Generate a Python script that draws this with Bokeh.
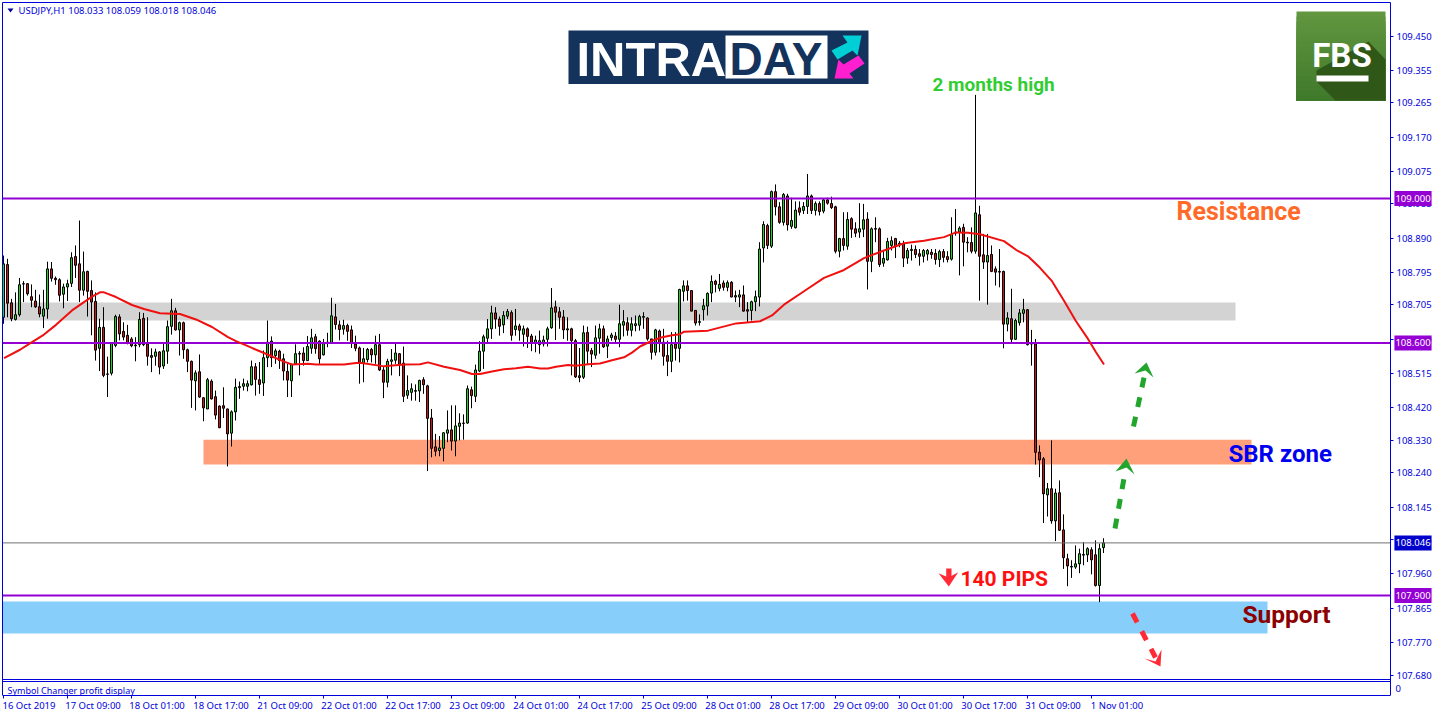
from bokeh.plotting import figure
from bokeh.embed import file_html
from bokeh.resources import INLINE
from bokeh.models import FixedTicker, LinearAxis, Label, PrintfTickFormatter

title_text = "USDJPY,H1  108.033 108.059 108.018 108.046"
opens = [
108.671,108.817,108.711,108.665,108.678,108.763,108.764,108.728,108.716,108.700,
108.674,108.694,108.805,108.779,108.775,108.735,108.755,108.765,108.839,108.819,
108.746,108.798,108.745,108.715,108.585,108.643,108.514,108.516,108.593,108.672,
108.632,108.621,108.611,108.594,108.595,108.668,108.597,108.565,108.563,108.575,
108.536,108.577,108.646,108.689,108.636,108.656,108.581,108.549,108.495,108.520,
108.448,108.417,108.494,108.451,108.425,108.426,108.417,108.350,108.409,108.476,
108.480,108.480,108.484,108.534,108.498,108.489,108.559,108.605,108.565,108.577,
108.556,108.521,108.495,108.542,108.569,108.572,108.551,108.585,108.617,108.605,
108.567,108.599,108.599,108.672,108.650,
108.638,108.648,108.636,108.597,108.586,108.544,108.554,108.582,108.567,108.595,
108.525,108.491,108.549,108.552,108.570,108.544,108.455,108.463,108.466,108.467,
108.498,108.481,108.392,108.312,108.302,108.308,108.350,108.359,108.328,108.369,
108.377,108.378,108.470,108.452,108.522,108.577,108.613,108.639,108.683,108.666,
108.650,108.674,108.684,108.637,108.647,108.624,108.639,108.619,108.600,108.595,
108.597,108.610,108.642,108.700,108.686,108.672,108.636,108.639,108.606,108.509,
108.505,108.629,108.579,108.566,108.613,108.639,108.591,108.615,108.619,108.610,
108.649,108.656,108.635,108.648,108.649,108.671,108.669,108.611,108.574,108.633,
108.602,108.565,108.549,108.597,108.585,
108.743,108.758,108.745,108.690,108.657,108.692,108.702,108.738,108.771,108.751,
108.766,108.754,108.768,108.731,108.727,108.733,108.692,108.690,108.714,108.727,
108.863,108.925,108.868,109.019,108.977,108.934,109.007,108.923,108.919,108.974,
108.967,108.978,109.007,108.967,108.986,108.965,108.996,108.986,108.977,108.854,
108.889,108.868,108.944,108.916,108.907,108.915,108.943,108.826,108.915,108.916,
108.821,108.830,108.870,108.889,108.876,108.874,108.835,108.856,108.859,108.847,
108.840,108.846,108.851,108.848,108.831,108.853,108.839,108.832,108.907,108.907,
108.920,108.877,108.878,108.854,108.955,108.844,108.824,108.845,108.805,108.796,
108.798,108.652,108.667,108.610,108.656,108.682,108.692,108.598,108.597,108.297,
108.279,108.179,108.196,108.107,108.185,108.082,108.002,107.979,107.979,107.988,
108.012,108.013,108.027,108.013,107.928,108.033]
highs = [
108.842,108.833,108.722,108.740,108.780,108.771,108.766,108.762,108.747,108.734,
108.747,108.825,108.824,108.784,108.779,108.764,108.775,108.851,108.870,108.939,
108.853,108.800,108.773,108.740,108.667,108.699,108.562,108.602,108.678,108.679,
108.657,108.650,108.616,108.616,108.685,108.683,108.671,108.585,108.584,108.577,
108.597,108.662,108.722,108.697,108.659,108.659,108.584,108.551,108.524,108.568,
108.450,108.503,108.499,108.468,108.427,108.477,108.418,108.413,108.501,108.493,
108.501,108.496,108.551,108.544,108.547,108.579,108.662,108.618,108.584,108.581,
108.570,108.542,108.542,108.596,108.577,108.588,108.619,108.639,108.625,108.607,
108.611,108.628,108.725,108.708,108.662,
108.664,108.653,108.648,108.620,108.590,108.586,108.586,108.586,108.620,108.625,
108.533,108.556,108.583,108.597,108.572,108.590,108.510,108.488,108.485,108.498,
108.505,108.484,108.417,108.348,108.342,108.353,108.413,108.427,108.427,108.405,
108.402,108.482,108.479,108.540,108.605,108.623,108.666,108.703,108.699,108.673,
108.688,108.694,108.690,108.694,108.653,108.648,108.643,108.625,108.620,108.634,
108.620,108.645,108.752,108.717,108.699,108.691,108.671,108.642,108.611,108.586,
108.648,108.645,108.586,108.648,108.653,108.648,108.620,108.628,108.630,108.706,
108.691,108.671,108.671,108.676,108.678,108.685,108.671,108.611,108.639,108.637,
108.639,108.606,108.630,108.630,108.750,
108.773,108.773,108.745,108.690,108.679,108.722,108.740,108.787,108.775,108.791,
108.773,108.773,108.771,108.745,108.747,108.759,108.713,108.717,108.745,108.879,
108.937,108.930,109.022,109.039,108.990,109.015,109.013,109.002,108.992,108.992,
108.990,109.068,109.011,108.992,108.992,108.999,109.002,109.005,108.980,108.891,
108.962,108.962,108.948,108.934,108.987,108.985,108.962,108.920,108.948,108.920,
108.856,108.891,108.895,108.891,108.882,108.883,108.863,108.872,108.870,108.860,
108.860,108.860,108.860,108.860,108.858,108.860,108.854,108.948,108.971,108.923,
108.930,108.893,108.920,109.287,108.980,108.902,108.902,108.870,108.812,108.860,
108.800,108.685,108.750,108.667,108.694,108.722,108.694,108.636,108.611,108.316,
108.284,108.212,108.330,108.196,108.219,108.125,108.016,107.998,108.039,108.030,
108.048,108.034,108.034,108.053,108.044,108.059]
lows = [
108.653,108.671,108.660,108.662,108.673,108.713,108.731,108.699,108.697,108.671,
108.641,108.667,108.770,108.761,108.715,108.696,108.716,108.755,108.780,108.713,
108.731,108.673,108.621,108.551,108.522,108.505,108.450,108.510,108.588,108.607,
108.607,108.596,108.588,108.549,108.588,108.591,108.537,108.519,108.537,108.513,
108.528,108.542,108.623,108.634,108.565,108.556,108.519,108.420,108.413,108.448,
108.383,108.417,108.443,108.388,108.364,108.392,108.258,108.313,108.385,108.445,
108.468,108.466,108.482,108.454,108.459,108.453,108.533,108.533,108.542,108.528,
108.496,108.450,108.450,108.542,108.510,108.537,108.551,108.570,108.570,108.542,
108.565,108.588,108.597,108.637,108.607,
108.623,108.606,108.586,108.577,108.487,108.491,108.546,108.546,108.542,108.522,
108.447,108.477,108.510,108.542,108.508,108.436,108.445,108.440,108.440,108.436,
108.459,108.245,108.283,108.286,108.286,108.272,108.325,108.302,108.286,108.330,
108.332,108.376,108.419,108.436,108.519,108.528,108.597,108.611,108.639,108.620,
108.627,108.666,108.606,108.620,108.606,108.590,108.586,108.577,108.574,108.570,
108.590,108.590,108.639,108.608,108.639,108.611,108.606,108.510,108.503,108.491,
108.500,108.542,108.533,108.556,108.570,108.586,108.558,108.606,108.597,108.588,
108.618,108.620,108.618,108.632,108.634,108.639,108.606,108.554,108.565,108.574,
108.537,108.508,108.519,108.551,108.546,
108.715,108.717,108.688,108.648,108.648,108.662,108.676,108.713,108.740,108.743,
108.745,108.743,108.727,108.713,108.699,108.687,108.657,108.662,108.688,108.701,
108.823,108.860,108.863,108.953,108.930,108.925,108.911,108.916,108.917,108.953,
108.957,108.957,108.957,108.953,108.953,108.959,108.983,108.971,108.848,108.837,
108.856,108.858,108.891,108.893,108.891,108.893,108.748,108.796,108.879,108.810,
108.811,108.828,108.856,108.835,108.865,108.810,108.819,108.828,108.835,108.814,
108.823,108.828,108.833,108.817,108.810,108.823,108.823,108.828,108.897,108.787,
108.812,108.851,108.848,108.847,108.717,108.805,108.706,108.796,108.759,108.754,
108.585,108.632,108.602,108.608,108.648,108.657,108.593,108.537,108.263,108.228,
108.101,108.119,108.099,108.051,108.079,107.974,107.926,107.949,107.974,107.962,
107.984,107.993,107.959,107.925,107.882,108.018]
closes = [
108.819,108.710,108.667,108.678,108.761,108.764,108.736,108.718,108.700,108.680,
108.694,108.805,108.779,108.775,108.732,108.755,108.764,108.836,108.815,108.746,
108.797,108.743,108.713,108.580,108.643,108.510,108.513,108.599,108.673,108.625,
108.616,108.601,108.592,108.592,108.665,108.595,108.563,108.560,108.575,108.533,
108.578,108.645,108.689,108.636,108.656,108.581,108.549,108.497,108.517,108.450,
108.420,108.498,108.445,108.400,108.365,108.419,108.348,108.409,108.477,108.479,
108.487,108.487,108.534,108.499,108.485,108.559,108.602,108.559,108.578,108.551,
108.522,108.497,108.540,108.570,108.571,108.551,108.590,108.614,108.584,108.556,
108.599,108.602,108.675,108.651,108.637,
108.648,108.632,108.600,108.585,108.546,108.556,108.582,108.567,108.595,108.525,
108.491,108.549,108.553,108.572,108.540,108.452,108.468,108.473,108.468,108.496,
108.484,108.391,108.308,108.300,108.309,108.351,108.359,108.328,108.370,108.378,
108.378,108.473,108.454,108.525,108.577,108.617,108.639,108.683,108.666,108.646,
108.676,108.687,108.621,108.647,108.635,108.639,108.618,108.600,108.608,108.606,
108.608,108.639,108.697,108.685,108.671,108.636,108.639,108.606,108.506,108.504,
108.628,108.577,108.569,108.614,108.639,108.589,108.611,108.622,108.610,108.653,
108.659,108.635,108.653,108.653,108.673,108.673,108.611,108.574,108.636,108.599,
108.563,108.549,108.595,108.585,108.748,
108.758,108.745,108.688,108.655,108.659,108.703,108.737,108.770,108.762,108.762,
108.754,108.767,108.727,108.727,108.733,108.688,108.688,108.714,108.728,108.860,
108.928,108.870,109.019,108.977,108.934,109.011,108.927,108.939,108.968,108.962,
108.978,109.007,108.967,108.986,108.964,108.996,108.987,108.975,108.854,108.889,
108.870,108.942,108.915,108.904,108.916,108.941,108.826,108.916,108.917,108.817,
108.834,108.881,108.883,108.867,108.872,108.835,108.856,108.859,108.845,108.840,
108.856,108.856,108.845,108.831,108.853,108.837,108.831,108.900,108.904,108.918,
108.879,108.879,108.854,108.960,108.840,108.824,108.842,108.798,108.796,108.798,
108.652,108.669,108.610,108.662,108.683,108.692,108.595,108.597,108.297,108.276,
108.182,108.196,108.107,108.184,108.081,108.005,107.982,107.981,107.988,108.016,
108.014,108.030,107.999,107.928,108.030,108.046]

ma_bars = [0,4,7,10,13,17,20,22,24,25,28,32,35,39,44,48,52,56,58,62,65,70,72,76,78,84,
           85,88,89,95,100,104,106,110,114,117,119,122,125,128,131,134,136,138,141,143,146,149,152,155,157,159,162,164,167,169,
           170,176,183,189,192,195,200,205,210,215,220,225,230,235,238,241,
           244,250,253,256,259,262,265,268,271,273,275]
ma_values = [108.558,108.581,108.602,108.623,108.650,108.690,108.713,108.728,108.740,108.740,108.727,108.705,108.694,108.682,108.680,108.665,108.644,108.616,108.605,108.586,108.572,108.548,108.540,108.542,108.540,108.540,
             108.540,108.544,108.545,108.535,108.540,108.541,108.546,108.534,108.525,108.514,108.514,108.521,108.527,108.530,108.534,108.529,108.529,108.534,108.539,108.537,108.541,108.543,108.552,108.560,108.573,108.590,108.606,108.614,108.621,108.624,
             108.631,108.634,108.654,108.660,108.676,108.706,108.743,108.780,108.802,108.835,108.856,108.876,108.883,108.893,108.906,108.905,
             108.901,108.882,108.858,108.840,108.808,108.771,108.717,108.660,108.611,108.574,108.540]

level_prices = [109.000, 108.600, 107.900]
level_labels = ["109.000", "108.600", "107.900"]
last_price = 108.046
grey_zone = (108.712, 108.662)
sbr_zone = (108.332, 108.263)
support_zone = (107.884, 107.795)
price_ticks = [109.450,109.355,109.265,109.170,109.075,108.985,108.890,108.795,108.705,108.610,
               108.515,108.420,108.330,108.240,108.145,108.055,107.960,107.865,107.770,107.680]
date_labels = ["16 Oct 2019","17 Oct 09:00","18 Oct 01:00","18 Oct 17:00","21 Oct 09:00","22 Oct 01:00",
               "22 Oct 17:00","23 Oct 09:00","24 Oct 01:00","24 Oct 17:00","25 Oct 09:00","28 Oct 01:00",
               "28 Oct 17:00","29 Oct 09:00","30 Oct 01:00","30 Oct 17:00","31 Oct 09:00","1 Nov 01:00"]

BLUE = "#0000dc"
def X(px): return (px - 3.5) / 4
def Y(py): return 109 - (py - 198) / 361

p = figure(width=1436, height=716, output_backend="svg", toolbar_location=None,
           x_range=(X(0), X(1436)), y_range=(Y(695), Y(0)), y_axis_location="right",
           min_border_left=0, min_border_right=0, min_border_top=0, min_border_bottom=21,
           background_fill_color="white", border_fill_color="white", outline_line_color=None)
p.grid.visible = False

tick_bars = [16 * k for k in range(len(date_labels))]
ax = p.xaxis[0]
ax.ticker = FixedTicker(ticks=[t - 0.125 for t in tick_bars])
ax.major_label_overrides = {t - 0.125: "" for t in tick_bars}
ax.major_label_text_font_size = "1px"
ax.major_label_standoff = 0
ax.major_tick_in = 0
ax.major_tick_out = 3
ax.major_tick_line_color = BLUE
ax.axis_line_color = BLUE
ax.minor_tick_line_color = None
ax.bounds = (X(2), X(1390))

label_centers = [t + 6.25 for t in tick_bars]
ax2 = LinearAxis(ticker=FixedTicker(ticks=label_centers),
                 major_label_overrides=dict(zip(label_centers, date_labels)),
                 major_tick_line_color=None, minor_tick_line_color=None, axis_line_color=None,
                 major_tick_in=0, major_tick_out=0, major_label_standoff=0,
                 major_label_text_color=BLUE, major_label_text_font="Noto Sans",
                 major_label_text_font_size="9.5px")
p.add_layout(ax2, "below")

ay = p.yaxis[0]
ay.fixed_location = X(1390)
ay.bounds = (Y(695), Y(2))
ay.ticker = FixedTicker(ticks=price_ticks)
ay.formatter = PrintfTickFormatter(format="%.3f")
ay.major_tick_in = 0
ay.major_tick_out = 3
ay.major_tick_line_color = BLUE
ay.axis_line_color = BLUE
ay.minor_tick_line_color = None
ay.major_label_standoff = 3
ay.major_label_text_color = BLUE
ay.major_label_text_font = "Noto Sans"
ay.major_label_text_font_size = "9.5px"

# zones
p.quad(left=X(2), right=X(1235), top=grey_zone[0], bottom=grey_zone[1], fill_color="#D3D3D3", line_color=None)
p.quad(left=X(203), right=X(1251), top=sbr_zone[0], bottom=sbr_zone[1], fill_color="#FFA07A", line_color=None)
p.quad(left=X(2), right=X(1267), top=support_zone[0], bottom=support_zone[1], fill_color="#87CEFA", line_color=None)

# candles: half a pixel left so the one pixel wicks sit on whole device pixels
bars = list(range(len(opens)))
shifted = [b - 0.125 for b in bars]
p.segment(shifted, lows, shifted, highs, line_color="black", line_width=1)
tops = [max(o, c) for o, c in zip(opens, closes)]
bottoms = [min(o, c) for o, c in zip(opens, closes)]
colors = ["#18d818" if c >= o else "#d01414" for o, c in zip(opens, closes)]
p.vbar(x=shifted, width=0.5, top=tops, bottom=bottoms, fill_color=colors, line_color="black", line_width=1)

# levels and average
x0, x1 = X(2), X(1390)
p.segment(x0, last_price, x1, last_price, line_color="#707070", line_width=1)
p.segment([x0] * len(level_prices), level_prices, [x1] * len(level_prices), level_prices,
          line_color="#9400D3", line_width=2)
p.line(ma_bars, ma_values, line_color="#f01010", line_width=2)

# frame lines and subwindow separator
p.quad(left=X(2), right=X(1389), top=Y(679), bottom=Y(682), fill_color="white", line_color=None)
frame_ys = [Y(2), Y(679), Y(681)]
p.segment([x0] * 3, frame_ys, [x1] * 3, frame_ys, line_color=BLUE, line_width=1)
p.segment(x0, Y(2), x0, Y(695), line_color=BLUE, line_width=1)

# arrows
GREEN = "#22a52c"
RED = "#ff2a35"
def arrow(a, b, tip, left, notch, right, color, lw):
    p.line([X(a[0]), X(b[0])], [Y(a[1]), Y(b[1])], line_color=color, line_width=lw, line_dash="10 10")
    p.patch([X(q[0]) for q in (tip, left, notch, right)], [Y(q[1]) for q in (tip, left, notch, right)],
            fill_color=color, line_color=None)
arrow((1114.5, 528), (1124, 475), (1126, 458), (1115, 471), (1126, 467), (1134, 474), GREEN, 5)
arrow((1133, 426), (1144, 375), (1146, 362), (1134, 373), (1145, 370), (1153, 377), GREEN, 5)
arrow((1132, 613), (1155, 657), (1160, 666), (1144, 658), (1155, 661), (1161, 649), RED, 5)
# small arrow next to 140 PIPS
p.quad(left=X(945.7), right=X(951), top=Y(568), bottom=Y(578), fill_color=RED, line_color=None)
p.patch([X(v) for v in (948.3, 938, 948, 957.7)], [Y(v) for v in (586, 572.7, 577, 571.7)], fill_color=RED, line_color=None)

def text(px, py, s, color, size, font="Roboto", style="bold", align="left", **kw):
    p.add_layout(Label(x=X(px), y=Y(py), text=s, text_color=color, text_font_size=f"{size}px",
                       text_font=font, text_font_style=style, text_align=align, text_baseline="middle", **kw))

text(932, 84, "2 months high", "#32cd32", 19)
text(1176, 211, "Resistance", "#ff6a28", 25)
text(1228, 453, "SBR zone", "#0000f0", 24)
text(1242, 614, "Support", "#8b0000", 24.5)
text(960, 578, "140 PIPS", "#ff1010", 21)

# header and subwindow caption
p.patch([X(v) for v in (7, 13, 10)], [Y(v) for v in (8, 8, 12)], fill_color="#0000a0", line_color=None)
text(18, 10, title_text, BLUE, 9.5, font="Noto Sans", style="normal")
text(7, 690, "Symbol Changer profit display", BLUE, 9, font="Noto Sans", style="normal")
text(1395, 688, "0", BLUE, 9.5, font="Noto Sans", style="normal")

# price boxes on the axis
for lv, lab in zip(level_prices, level_labels):
    text(1412.5, 198 + (109 - lv) * 361, lab, "white", 9.5, font="Noto Sans", style="normal", align="center",
         background_fill_color="#9400D3", padding=(1, 4))
text(1412.5, 198 + (109 - last_price) * 361, f"{last_price:.3f}", "white", 9.5, font="Noto Sans", style="normal",
     align="center", background_fill_color="#0000cd", padding=(1, 4))

# INTRADAY logo
NAVY = "#14335c"
p.quad(left=X(568), right=X(868), top=Y(30), bottom=Y(83.5), fill_color=NAVY, line_color=None)
p.quad(left=X(725), right=X(827), top=Y(35), bottom=Y(78), fill_color="white", line_color=None)
text(576, 58.5, "INTRA", "white", 49, font="Liberation Sans")
text(729, 58.5, "DAY", NAVY, 46, font="Liberation Sans")
cyan = [(861,35),(842,35),(847,42),(831,50),(837,59),(852,50),(857,55)]
pink = [(858,55),(864,63),(849,73),(853,78),(834,78),(838,59),(843,64)]
p.patch([X(a) for a, b in cyan], [Y(b) for a, b in cyan], fill_color="#00cfd6", line_color=None)
p.patch([X(a) for a, b in pink], [Y(b) for a, b in pink], fill_color="#ff1fd0", line_color=None)

# FBS logo
for k in range(18):
    shade = int(0x62 - (0x62 - 0x3f) * k / 17), int(0x96 - (0x96 - 0x7a) * k / 17), int(0x40 - (0x40 - 0x2b) * k / 17)
    p.quad(left=X(1296), right=X(1385), top=Y(11 + 5 * k), bottom=Y(100), fill_color="#%02x%02x%02x" % shade, line_color=None)
shadow = [(1368, 41), (1385, 59), (1385, 100), (1335, 100), (1316, 81), (1316, 70)]
p.patch([X(a) for a, b in shadow], [Y(b) for a, b in shadow], fill_color="#2f5718", line_color=None)
text(1341.5, 55, "FBS", "white", 33, font="Roboto", align="center")
p.quad(left=X(1316), right=X(1368), top=Y(75), bottom=Y(81), fill_color="white", line_color=None)

open("out.html", "w").write(file_html(p, INLINE))
